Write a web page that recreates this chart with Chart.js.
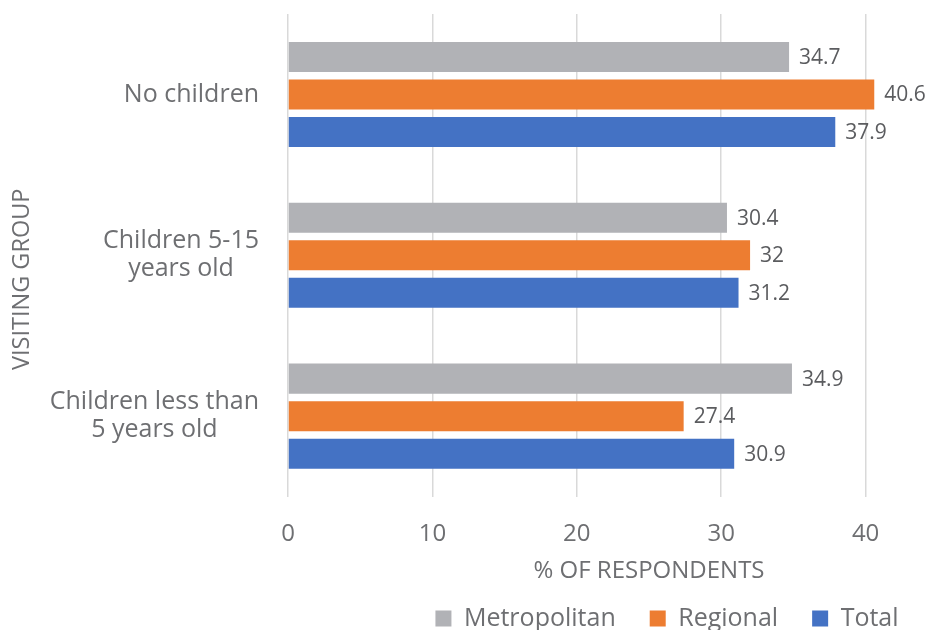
<!DOCTYPE html>
<html>
<head>
<meta charset="utf-8">
<script src="https://cdn.jsdelivr.net/npm/chart.js@4/dist/chart.umd.min.js"></script>
<style>
  html, body { margin: 0; padding: 0; background: #fff; overflow: hidden; }
  #wrap { width: 933px; height: 630px; overflow: hidden; position: relative; }
  #chart { position: absolute; left: 0; top: 0; }
</style>
</head>
<body>
<div id="wrap"><canvas id="chart" width="1010" height="641"></canvas></div>
<script>
const categories = [["No children"], ["Children 5-15", "years old"], ["Children less than", "5 years old"]];
const seriesNames = ["Metropolitan", "Regional", "Total"];
const metropolitan = [34.7, 30.4, 34.9];
const regional = [40.6, 32, 27.4];
const total = [37.9, 31.2, 30.9];
const colors = ["#b1b2b6", "#ed7d31", "#4472c4"];
const xTicks = [0, 10, 20, 30, 40, 50];

const FONT = "'Open Sans', sans-serif";
const GREY = "#6e6f72";

// writes each bar's value just past its end
const valueLabels = {
    id: "valueLabels",
    afterDatasetsDraw(chart) {
        const ctx = chart.ctx;
        ctx.save();
        ctx.font = "21px " + FONT;
        ctx.fillStyle = "#5b5c5f";
        ctx.textAlign = "left";
        ctx.textBaseline = "middle";
        chart.data.datasets.forEach((ds, i) => {
            chart.getDatasetMeta(i).data.forEach((bar, j) => {
                ctx.fillText(String(ds.data[j]), bar.x + 10, bar.y + 1);
            });
        });
        ctx.restore();
    },
};

// category names (block right-aligned, lines centred) and the vertical axis title
const categoryLabels = {
    id: "categoryLabels",
    afterDraw(chart) {
        const ctx = chart.ctx;
        const y = chart.scales.y;
        const area = chart.chartArea;
        const right = area.left - 29;
        const lineH = 28;
        ctx.save();
        ctx.font = "25px " + FONT;
        ctx.fillStyle = GREY;
        ctx.textAlign = "center";
        ctx.textBaseline = "middle";
        categories.forEach((lines, i) => {
            const widest = Math.max(...lines.map((t) => ctx.measureText(t).width));
            const cx = right - widest / 2;
            const cy = y.getPixelForTick(i);
            lines.forEach((t, k) => {
                ctx.fillText(t, cx, cy + (k - (lines.length - 1) / 2) * lineH);
            });
        });

        ctx.font = "23.5px " + FONT;
        ctx.translate(22, (area.top + area.bottom) / 2 + 24);
        ctx.rotate(-Math.PI / 2);
        ctx.fillText("VISITING GROUP", 0, 0);
        ctx.restore();
    },
};

// nudge the legend row to the right of the plot centre
const legendOffset = {
    id: "legendOffset",
    afterLayout(chart) {
        chart.legend.left += 18;
        chart.legend.right += 18;
    },
};

const seriesData = [metropolitan, regional, total];

new Chart(document.getElementById("chart"), {
    type: "bar",
    data: {
        labels: categories,
        datasets: seriesNames.map((name, i) => ({
            label: name,
            data: seriesData[i],
            backgroundColor: colors[i],
            borderWidth: 0,
            categoryPercentage: 0.7,
            barPercentage: 0.8,
        })),
    },
    plugins: [valueLabels, categoryLabels, legendOffset],
    options: {
        indexAxis: "y",
        responsive: false,
        animation: false,
        layout: {
            padding: { top: 14, left: 0, right: 0, bottom: 0 },
        },
        scales: {
            x: {
                min: 0,
                max: 50,
                afterBuildTicks: (scale) => {
                    scale.ticks = xTicks.map((v) => ({ value: v }));
                },
                afterFit: (scale) => {
                    scale.paddingLeft = 0;
                    scale.paddingRight = 0;
                    scale.height = 97;
                },
                grid: { color: "#d9d9d9", lineWidth: 1.5, drawTicks: false },
                border: { display: false },
                ticks: {
                    padding: 23,
                    color: GREY,
                    font: { family: FONT, size: 24 },
                },
                title: {
                    display: true,
                    text: "% OF RESPONDENTS",
                    color: GREY,
                    font: { family: FONT, size: 24 },
                    padding: { top: 8, bottom: 8 },
                },
            },
            y: {
                grid: { display: false },
                border: { display: false },
                afterFit: (scale) => {
                    scale.width = 288;
                    scale.paddingTop = 0;
                    scale.paddingBottom = 0;
                },
                ticks: { display: false },
            },
        },
        plugins: {
            legend: {
                position: "bottom",
                fullSize: false,
                // empty title with negative padding pulls the row up under the axis title
                title: {
                    display: true,
                    text: "",
                    font: { size: 1 },
                    padding: { top: 0, bottom: -22.8 },
                },
                labels: {
                    color: GREY,
                    font: { family: FONT, size: 25 },
                    boxWidth: 16,
                    boxHeight: 16,
                    padding: 34,
                },
            },
            tooltip: { enabled: false },
        },
    },
});
</script>
</body>
</html>
